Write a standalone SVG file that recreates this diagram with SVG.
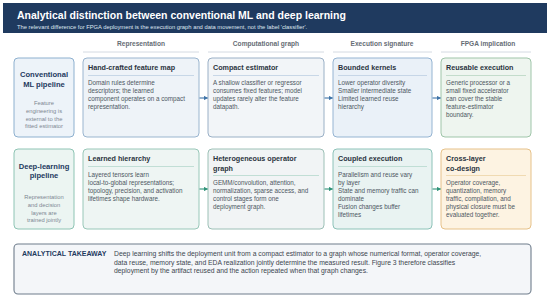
<svg xmlns="http://www.w3.org/2000/svg" width="550" height="297" viewBox="0 0 550 297">
<defs>
<marker id="ab" viewBox="0 0 6 6" refX="5" refY="3" markerWidth="4" markerHeight="4" orient="auto"><path d="M0,0 L6,3 L0,6 z" fill="#3f74a8"/></marker>
<marker id="ag" viewBox="0 0 6 6" refX="5" refY="3" markerWidth="4" markerHeight="4" orient="auto"><path d="M0,0 L6,3 L0,6 z" fill="#2f9278"/></marker>
<style>
text{font-family:"Liberation Sans",Arial,sans-serif}
.h1{font-size:10.5px;font-weight:bold;fill:#fff}
.h2{font-size:5.8px;fill:#dfe7f1}
.col{font-size:6.6px;font-weight:bold;fill:#666d75;text-anchor:middle}
.colline{stroke:#c9d1da;stroke-width:0.8}
.rt{font-size:7.6px;font-weight:bold;fill:#1f3a5f;text-anchor:middle}
.rs{font-size:5.8px;fill:#7d8792;text-anchor:middle}
.bt{font-size:7.2px;font-weight:bold;fill:#2b3440}
.bb{font-size:6.3px;fill:#4d5762}
.box{stroke-width:1}
.ta{font-size:7px;font-weight:bold;fill:#1f3a5f}
.tb{font-size:6.8px;fill:#3d4650}
.cb{stroke:#3f74a8;stroke-width:1.1;fill:none;marker-end:url(#ab)}
.cg{stroke:#2f9278;stroke-width:1.1;fill:none;marker-end:url(#ag)}
</style>
</defs>
<rect x="0" y="0" width="550" height="297" fill="#ffffff"/>
<g id="header">
<rect x="3" y="3" width="544" height="30" fill="#1f3a5f"/>
<text class="h1" x="17" y="19">Analytical distinction between conventional ML and deep learning</text>
<text class="h2" x="17" y="28.5">The relevant difference for FPGA deployment is the execution graph and data movement, not the label 'classifier'.</text>
</g>
<g id="column-headers">
<text class="col" x="141" y="45.5">Representation</text>
<line class="colline" x1="83" y1="52" x2="199" y2="52"/>
<text class="col" x="266" y="45.5">Computational graph</text>
<line class="colline" x1="208" y1="52" x2="324" y2="52"/>
<text class="col" x="382" y="45.5">Execution signature</text>
<line class="colline" x1="333" y1="52" x2="432" y2="52"/>
<text class="col" x="488" y="45.5">FPGA implication</text>
<line class="colline" x1="441" y1="52" x2="531" y2="52"/>
</g>
<g id="conventional-ml-pipeline">
<rect class="box" x="14" y="58" width="60" height="79" rx="4" fill="#edf3f9" stroke="#8db0cf"/>
<text class="rt" x="44" y="77">Conventional</text>
<text class="rt" x="44" y="86.5">ML pipeline</text>
<text class="rs" x="44" y="105">Feature</text>
<text class="rs" x="44" y="113">engineering is</text>
<text class="rs" x="44" y="120.5">external to the</text>
<text class="rs" x="44" y="128">fitted estimator</text>
</g>
<g id="hand-crafted-feature-map">
<rect class="box" x="83" y="58" width="116" height="79" rx="4" fill="#eef3f8" stroke="#9ab5cf"/>
<text class="bt" x="88" y="69.5">Hand-crafted feature map</text>
<line x1="88" y1="75.5" x2="194" y2="75.5" stroke="#bccfe2" stroke-width="0.8"/>
<text class="bb" x="88" y="85">Domain rules determine</text>
<text class="bb" x="88" y="93">descriptors; the learned</text>
<text class="bb" x="88" y="101">component operates on a compact</text>
<text class="bb" x="88" y="109">representation.</text>
</g>
<g id="compact-estimator">
<rect class="box" x="208" y="58" width="116" height="79" rx="4" fill="#f2f5f8" stroke="#9ab0c6"/>
<text class="bt" x="213" y="69.5">Compact estimator</text>
<line x1="213" y1="75.5" x2="319" y2="75.5" stroke="#bccfe2" stroke-width="0.8"/>
<text class="bb" x="213" y="85">A shallow classifier or regressor</text>
<text class="bb" x="213" y="93">consumes fixed features; model</text>
<text class="bb" x="213" y="101">updates rarely alter the feature</text>
<text class="bb" x="213" y="109">datapath.</text>
</g>
<g id="bounded-kernels">
<rect class="box" x="333" y="58" width="99" height="79" rx="4" fill="#eaf1f8" stroke="#95b4d2"/>
<text class="bt" x="338" y="69.5">Bounded kernels</text>
<line x1="338" y1="75.5" x2="427" y2="75.5" stroke="#bccfe2" stroke-width="0.8"/>
<text class="bb" x="338" y="85">Lower operator diversity</text>
<text class="bb" x="338" y="93">Smaller intermediate state</text>
<text class="bb" x="338" y="101">Limited learned reuse</text>
<text class="bb" x="338" y="109">hierarchy</text>
</g>
<g id="reusable-execution">
<rect class="box" x="441" y="58" width="90" height="79" rx="4" fill="#eef5ef" stroke="#9fc5a9"/>
<text class="bt" x="446" y="69.5">Reusable execution</text>
<line x1="446" y1="75.5" x2="526" y2="75.5" stroke="#b8d6c1" stroke-width="0.8"/>
<text class="bb" x="446" y="85">Generic processor or a</text>
<text class="bb" x="446" y="93">small fixed accelerator</text>
<text class="bb" x="446" y="101">can cover the stable</text>
<text class="bb" x="446" y="109">feature-estimator</text>
<text class="bb" x="446" y="117">boundary.</text>
</g>
<g id="deep-learning-pipeline">
<rect class="box" x="14" y="149" width="60" height="80" rx="4" fill="#ecf5f2" stroke="#8ec4b4"/>
<text class="rt" x="44" y="169">Deep-learning</text>
<text class="rt" x="44" y="178">pipeline</text>
<text class="rs" x="44" y="199">Representation</text>
<text class="rs" x="44" y="207">and decision</text>
<text class="rs" x="44" y="214.5">layers are</text>
<text class="rs" x="44" y="222">trained jointly</text>
</g>
<g id="learned-hierarchy">
<rect class="box" x="83" y="149" width="116" height="80" rx="4" fill="#eef5f3" stroke="#98c7b8"/>
<text class="bt" x="88" y="160.5">Learned hierarchy</text>
<line x1="88" y1="166.5" x2="194" y2="166.5" stroke="#b5d8cd" stroke-width="0.8"/>
<text class="bb" x="88" y="177">Layered tensors learn</text>
<text class="bb" x="88" y="185">local-to-global representations;</text>
<text class="bb" x="88" y="193">topology, precision, and activation</text>
<text class="bb" x="88" y="201">lifetimes shape hardware.</text>
</g>
<g id="heterogeneous-operator-graph">
<rect class="box" x="208" y="149" width="116" height="80" rx="4" fill="#f1f4f5" stroke="#9cc0b6"/>
<text class="bt" x="213" y="160.5">Heterogeneous operator</text>
<text class="bt" x="213" y="170.5">graph</text>
<line x1="213" y1="175.5" x2="319" y2="175.5" stroke="#b5d8cd" stroke-width="0.8"/>
<text class="bb" x="213" y="185">GEMM/convolution, attention,</text>
<text class="bb" x="213" y="193">normalization, sparse access, and</text>
<text class="bb" x="213" y="201">control stages form one</text>
<text class="bb" x="213" y="209">deployment graph.</text>
</g>
<g id="coupled-execution">
<rect class="box" x="333" y="149" width="99" height="80" rx="4" fill="#e9f3f2" stroke="#8cc2b8"/>
<text class="bt" x="338" y="160.5">Coupled execution</text>
<line x1="338" y1="166.5" x2="427" y2="166.5" stroke="#b5d8cd" stroke-width="0.8"/>
<text class="bb" x="338" y="177">Parallelism and reuse vary</text>
<text class="bb" x="338" y="185">by layer</text>
<text class="bb" x="338" y="193">State and memory traffic can</text>
<text class="bb" x="338" y="201">dominate</text>
<text class="bb" x="338" y="209">Fusion changes buffer</text>
<text class="bb" x="338" y="216.5">lifetimes</text>
</g>
<g id="cross-layer-co-design">
<rect class="box" x="441" y="149" width="90" height="80" rx="4" fill="#fdf3e2" stroke="#e6c189"/>
<text class="bt" x="446" y="160.5">Cross-layer</text>
<text class="bt" x="446" y="170.5">co-design</text>
<line x1="446" y1="175.5" x2="526" y2="175.5" stroke="#ecd3a6" stroke-width="0.8"/>
<text class="bb" x="446" y="185">Operator coverage,</text>
<text class="bb" x="446" y="193">quantization, memory</text>
<text class="bb" x="446" y="201">traffic, compilation, and</text>
<text class="bb" x="446" y="209">physical closure must be</text>
<text class="bb" x="446" y="216.5">evaluated together.</text>
</g>
<g id="connectors">
<line class="cb" x1="199.5" y1="98" x2="207.5" y2="98"/>
<line class="cb" x1="324.5" y1="98" x2="332.5" y2="98"/>
<line class="cb" x1="432.5" y1="98" x2="440.5" y2="98"/>
<line class="cg" x1="199.5" y1="189" x2="207.5" y2="189"/>
<line class="cg" x1="324.5" y1="189" x2="332.5" y2="189"/>
<line class="cg" x1="432.5" y1="189" x2="440.5" y2="189"/>
</g>
<g id="analytical-takeaway">
<rect x="14" y="244" width="517" height="50" rx="4" fill="#f4f6f9" stroke="#6f7d8c" stroke-width="1.1"/>
<text class="ta" x="22" y="256">ANALYTICAL TAKEAWAY</text>
<text class="tb" x="114" y="256">Deep learning shifts the deployment unit from a compact estimator to a graph whose numerical format, operator coverage,</text>
<text class="tb" x="114" y="264.5">data reuse, memory state, and EDA realization jointly determine the measured result. Figure 3 therefore classifies</text>
<text class="tb" x="114" y="273">deployment by the artifact reused and the action repeated when that graph changes.</text>
</g>
</svg>
